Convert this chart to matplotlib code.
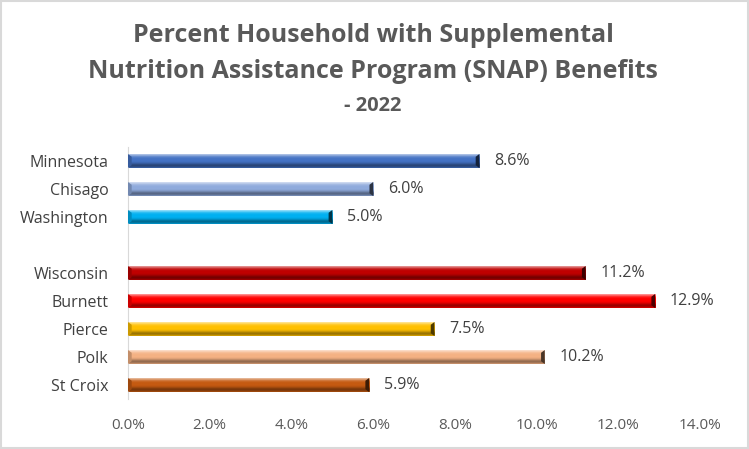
import numpy as np
import matplotlib.pyplot as plt
from matplotlib.colors import to_rgb
from matplotlib.patches import Rectangle, Polygon

plt.rcParams['font.family'] = ['Open Sans', 'DejaVu Sans']

# data, top to bottom
mn_names = ['Minnesota', 'Chisago', 'Washington']
mn_values = [8.6, 6.0, 5.0]
mn_colors = ['#4472C4', '#8FAADC', '#00B0F0']

wi_names = ['Wisconsin', 'Burnett', 'Pierce', 'Polk', 'St Croix']
wi_values = [11.2, 12.9, 7.5, 10.2, 5.9]
wi_colors = ['#C00000', '#FF0000', '#FFC000', '#F4B183', '#C55A11']

x_ticks = [0, 2, 4, 6, 8, 10, 12, 14]

names = mn_names + wi_names
values = mn_values + wi_values
colors = mn_colors + wi_colors
# leave one empty slot between the two groups
pos = list(range(len(mn_names))) + list(range(len(mn_names) + 1, len(names) + 1))

fig = plt.figure(figsize=(7.49, 4.49), dpi=100)
fig.patches.append(Rectangle((0.001, 0.002), 0.997, 0.995, transform=fig.transFigure,
                             fill=False, ec='#D9D9D9', lw=1.5))
ax = fig.add_axes([128 / 749, 50 / 449, 572 / 749, 252 / 449])

def shade(c, f):
    c = np.array(to_rgb(c))
    if f >= 0:
        return c + (1 - c) * f
    return c * (1 + f)

# vertical bevel profile, top -> bottom
profile = [0.55, 0.35, 0.15, 0.05, 0.0, 0.0, 0.0, -0.05, -0.15, -0.3, -0.4, -0.35, -0.2]
h = 0.5
for y, v, c in zip(pos, values, colors):
    img = np.array([[shade(c, f)] for f in profile])
    ax.imshow(img, extent=(0, v, y + h / 2, y - h / 2), aspect='auto',
              interpolation='bilinear', zorder=2)
    e = 0.09
    ax.add_patch(Polygon([(v - e, y - h / 2 + 0.1), (v, y - h / 2), (v, y + h / 2),
                          (v - e, y + h / 2 - 0.1)], closed=True,
                         fc=shade(c, -0.7), ec='none', zorder=3))
    ax.add_patch(Polygon([(0, y - h / 2), (e, y - h / 2 + 0.1), (e, y + h / 2 - 0.1),
                          (0, y + h / 2)], closed=True,
                         fc=shade(c, -0.2), ec='none', zorder=3))
    ax.text(v + 0.36, y, f'{v:.1f}%', va='center', ha='left', fontsize=11.5,
            color='#404040')

ax.set_xlim(0, 14)
ax.set_ylim(len(names) + 0.5, -0.5)
ax.set_xticks(x_ticks)
ax.set_xticklabels([f'{t:.1f}%' for t in x_ticks], fontsize=11, color='#595959')
ax.set_yticks(pos)
ax.set_yticklabels(names, fontsize=11.5, color='#404040')
ax.tick_params(length=0, pad=14)
ax.tick_params(axis='x', pad=14)
for s in ['top', 'right', 'bottom']:
    ax.spines[s].set_visible(False)
ax.spines['left'].set_color('#D9D9D9')

fig.text(0.498, 1 - 35 / 449, 'Percent Household with Supplemental', ha='center', va='center',
         fontsize=18, fontweight='bold', color='#595959')
fig.text(0.498, 1 - 71 / 449, 'Nutrition Assistance Program (SNAP) Benefits', ha='center',
         va='center', fontsize=18, fontweight='bold', color='#595959')
fig.text(0.498, 1 - 106 / 449, '- 2022', ha='center', va='center',
         fontsize=14.5, fontweight='bold', color='#595959')

fig.savefig('out.png', dpi=100)
